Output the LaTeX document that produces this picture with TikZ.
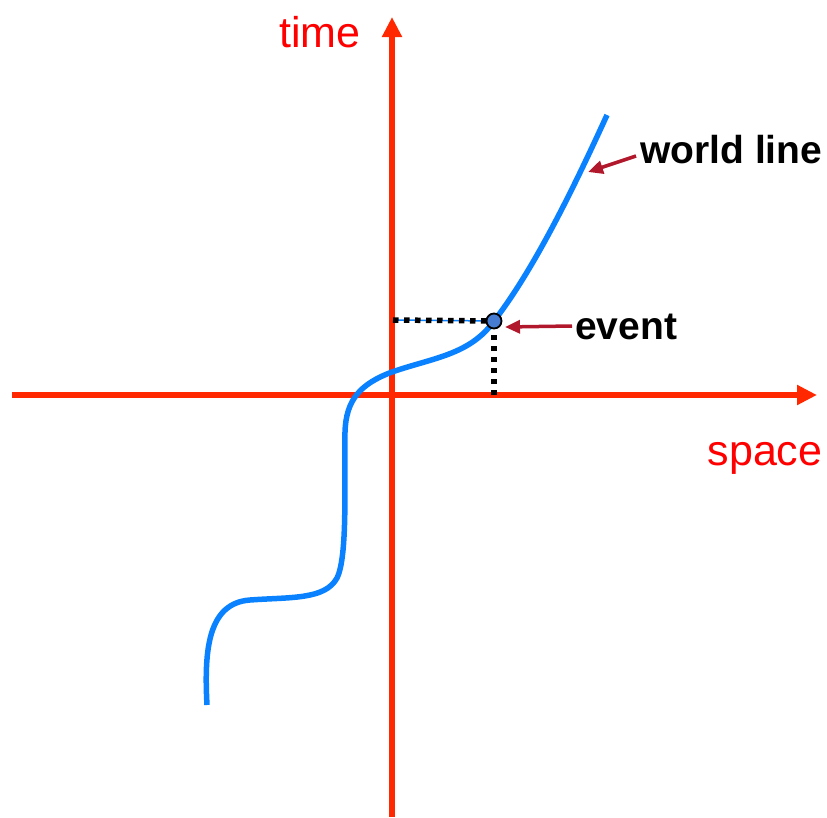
\documentclass[tikz,border=0pt]{standalone}
\usepackage{fontspec}
\setmainfont{Liberation Sans}
\usetikzlibrary{arrows.meta}
\definecolor{axisred}{RGB}{255,40,0}
\definecolor{labred}{RGB}{255,0,0}
\definecolor{wlblue}{RGB}{10,130,255}
\definecolor{ptarrow}{RGB}{178,24,44}
\definecolor{evfill}{RGB}{70,125,210}
\tikzset{
  axis/.style={draw=axisred, line width=6pt, -{Triangle[length=20pt,width=19pt]}},
  axlabel/.style={text=labred, font=\fontsize{43}{50}\selectfont, inner sep=0pt},
  bold label/.style={text=black, font=\bfseries\fontsize{39}{46}\selectfont, inner sep=0pt},
  pointer/.style={draw=ptarrow, line width=3.5pt, -{Triangle[length=15pt,width=13pt]}},
  dotline/.style={draw=black, line width=5.5pt, dash pattern=on 5.5pt off 5.5pt},
  worldline/.style={draw=wlblue, line width=5.5pt, line cap=butt}
}
\begin{document}
\begin{tikzpicture}[x=1pt,y=-1pt]
\useasboundingbox (0,0) rectangle (827,817);
% axes
\coordinate (ybot) at (392,817);
\coordinate (ytop) at (392,17);
\coordinate (xleft) at (12,395);
\coordinate (xright) at (817,395);
\draw[axis] (ybot) -- (ytop);
\draw[axis] (xleft) -- (xright);
\node[axlabel, anchor=base] (tlab) at (320,47) {time};
\node[axlabel, anchor=base] (slab) at (765,465) {space};
% projections
\coordinate (ey) at (393,320);
\coordinate (ex) at (494,395);
\coordinate (ev) at (494,321);
\draw[draw=wlblue, line width=1.5pt] (ey) -- (ev);
\draw[dotline] (ey) -- (ev);
\draw[dotline] (ex) -- (ev);
% world line
\draw[worldline] (207,705) .. controls (204,650) and (208,603) .. (250,600)
  .. controls (290,597) and (325,600) .. (337,578)
  .. controls (348,556) and (344,480) .. (345,432)
  .. controls (346,400) and (360,384) .. (392,372)
  .. controls (432,358) and (470,355) .. (494,321)
  .. controls (535,268) and (575,185) .. (607,115);
% event point
\node[circle, draw=black, fill=evfill, line width=1.8pt, minimum size=15pt, inner sep=0pt] (event) at (ev) {};
% labels
\node[bold label, anchor=base west] (wl) at (640,163) {world line};
\node[bold label, anchor=base west] (evl) at (575,339) {event};
\coordinate (wltip) at (588,172);
\coordinate (evtip) at (505,327);
\draw[pointer] (636,156) -- (wltip);
\draw[pointer] (572,326) -- (evtip);
\end{tikzpicture}
\end{document}
